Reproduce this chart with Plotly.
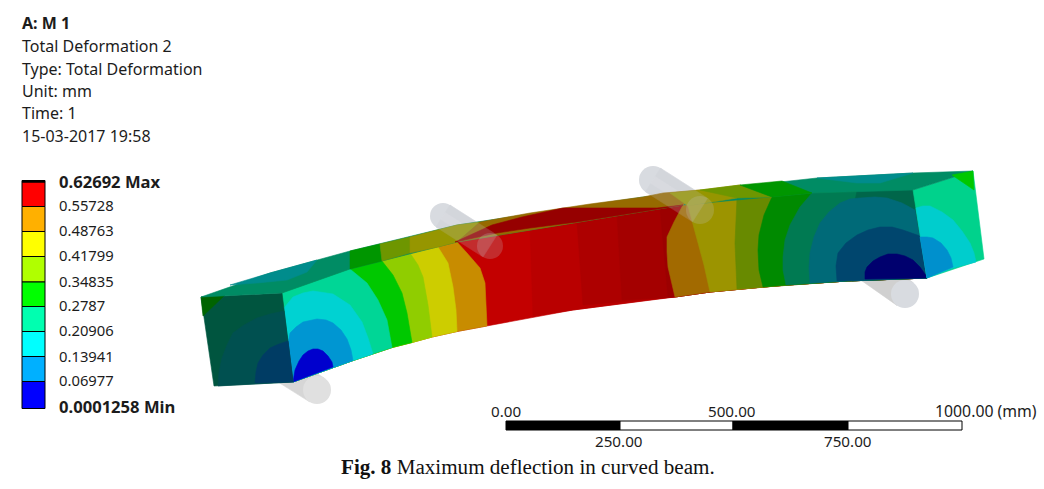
import plotly.graph_objects as go

# ---- text ----
HEADER_BOLD = "A: M 1"
HEADER_LINES = ["Total Deformation 2", "Type: Total Deformation", "Unit: mm", "Time: 1", "15-03-2017 19:58"]
HEADER_Y = [46, 69, 91, 113, 136]
LEGEND_LABELS = ["0.62692 Max", "0.55728", "0.48763", "0.41799", "0.34835", "0.2787", "0.20906", "0.13941", "0.06977", "0.0001258 Min"]
LEGEND_LABEL_Y = [181, 205, 230, 255, 281, 305, 330, 356, 380, 406]
LEGEND_COLORS = ["#ff0000", "#ffb000", "#ffff00", "#b0ff00", "#00ff00", "#00ffb0", "#00ffff", "#00b0ff", "#0000ff"]
LEGEND_EDGES = [182, 206.5, 231.5, 256.5, 282, 306.5, 331.5, 356.5, 381.5, 408.5]
SCALE_EDGES = [506, 620, 733, 848, 962]
SCALE_FILL = ["black", "white", "black", "white"]
SCALE_TOP = [("0.00", 506), ("500.00", 732)]
SCALE_BOTTOM = [("250.00", 619), ("750.00", 848)]

# ---- beam outline ----
FRONT_TOP = [(282, 293), (350, 269), (382, 261), (410, 253), (438, 247), (457, 242), (497, 233), (530, 228), (577, 222), (660, 208), (683, 205), (737, 198), (772, 197), (812, 193), (913, 190)]
FRONT_BOT = [(293, 382), (353, 360.5), (392, 347.5), (412, 342.5), (432, 337), (457, 331.5), (487, 326), (573, 310), (675, 297), (710, 292), (763, 287), (787, 285), (847, 281), (927, 278)]
TOP_UPPER = [(201, 297), (270, 273), (350, 251), (380, 244), (410, 237), (457, 225), (480, 222), (530, 213), (590, 204), (643, 197), (700, 190), (740, 185), (817, 178), (913, 173), (973, 171)]

# ---- contour curves on the front face, top to bottom ----
LEFT_BANDS = [
    ("#c88c00", [(457, 242), (467, 253), (480, 268), (485, 283), (486, 305), (487, 326)]),
    ("#cdcd00", [(438, 247), (448, 263), (453, 287), (456, 310), (457, 331.5)]),
    ("#90cd00", [(410, 253), (418, 265), (423, 277), (428, 305), (432, 337)]),
    ("#00c800", [(382, 261), (393, 275), (402, 293), (407, 313), (412, 342.5)]),
    ("#00d696", [(350, 269), (367, 283), (378, 300), (387, 320), (392, 347.5)]),
]
LEFT_DOMES = [
    ("#00d2d2", [(284, 308), (293, 297), (303, 293), (313, 291), (333, 294), (350, 305), (362, 322), (368, 338), (373, 354)]),
    ("#0096d2", [(288, 343), (290, 333), (296, 327), (303, 322), (317, 319), (326, 320), (333, 323), (341, 330), (347, 339), (351, 350), (353, 360.5)]),
    ("#0000cd", [(295, 370), (299, 361), (303, 355), (308, 351), (313, 349), (318, 349), (323, 351), (328, 356), (332, 362), (333, 367)]),
]
RED_BASE = "#c30000"
RED_STRIPS = [
    ("#b90000", [(530, 228), (533, 316)]),
    ("#ad0000", [(577, 222), (583, 305)]),
    ("#a40000", [(617, 215), (622, 300)]),
]
RIGHT_BANDS = [
    ("#9c0000", [(660, 208), (668, 297)]),
    ("#a26a00", [(683, 205), (674, 222), (667, 237), (667, 252), (668, 267), (675, 297)]),
    ("#9c9400", [(688, 206), (697, 240), (704, 265), (710, 292)]),
    ("#688a00", [(737, 198), (735, 243), (737, 289)]),
    ("#008a00", [(772, 197), (764, 215), (759, 235), (758, 250), (759, 270), (763, 287)]),
    ("#007a52", [(812, 193), (800, 207), (790, 225), (785, 240), (783, 257), (783, 270), (786, 285)]),
    ("#00664a", [(857, 191), (852, 215), (852, 281)]),
]
RIGHT_DOMES = [
    ("#006a78", [(810, 283), (809, 268), (810, 253), (814, 237), (820, 223), (829, 212), (840, 203), (850, 199), (860, 198), (875, 197), (887, 198), (902, 203), (915, 210)]),
    ("#00466e", [(837, 281), (836, 266), (838, 253), (846, 243), (857, 235), (868, 230), (880, 227), (892, 227), (903, 230), (920, 236)]),
    ("#00006e", [(865, 279), (865, 272), (867, 267), (873, 261), (880, 257), (888, 254), (897, 254), (905, 256), (913, 260), (920, 267), (927, 277)]),
]

# ---- end faces and top face patches ----
PATCHES = [
    ("#00553f", [(201, 297), (282, 293), (293, 382), (214, 386)]),
    ("#005050", [(218, 386), (219, 372), (222, 358), (227, 345), (233, 333), (244, 325), (257, 318), (270, 314), (284, 311), (293, 382)]),
    ("#003c64", [(255, 383), (256, 372), (258, 363), (263, 355), (270, 348), (279, 344), (288, 341), (293, 382)]),
    ("#006400", [(201, 297), (225, 295), (203, 316)]),
    ("#00d28c", [(913, 190), (973, 171), (984, 259), (927, 278)]),
    ("#00cdcd", [(916, 208), (923, 206), (930, 206), (942, 212), (953, 220), (962, 231), (970, 243), (974, 253), (976, 262), (953, 268), (927, 278)]),
    ("#0090cd", [(920, 237), (927, 237), (933, 238), (941, 243), (947, 250), (951, 258), (953, 267), (927, 278)]),
    # top face
    ("#008c64", [(201, 297), (270, 273), (350, 251), (457, 225), (643, 197), (817, 178), (913, 173), (973, 171), (913, 190), (812, 193), (683, 205), (457, 242), (350, 269), (282, 293)]),
    ("#008c8c", [(230, 285), (257, 283), (287, 280), (307, 272), (317, 260), (270, 273)]),
    ("#008c8c", [(817, 178), (857, 183), (880, 183), (913, 173)]),
    ("#009600", [(350, 251), (380, 244), (382, 261), (350, 269)]),
    ("#6e9600", [(380, 244), (410, 237), (410, 253), (382, 261)]),
    ("#969600", [(410, 237), (457, 225), (480, 222), (457, 242), (438, 247), (410, 253)]),
    ("#966a00", [(480, 222), (530, 213), (590, 204), (643, 197), (663, 193), (700, 190), (683, 205), (457, 242)]),
    ("#960000", [(455, 242), (492, 225), (522, 217), (563, 208), (657, 208), (683, 205), (577, 222), (530, 228), (497, 233)]),
    ("#969600", [(670, 193), (700, 190), (740, 185), (737, 198), (688, 206)]),
    ("#6e9600", [(700, 190), (740, 185), (772, 197), (737, 198)]),
    ("#009600", [(740, 185), (782, 181), (812, 193), (772, 197)]),
    ("#00c800", [(952, 175), (973, 171), (974, 190)]),
]

# ---- support cylinders: end-to-end centres, radius ----
CYLINDERS_BEHIND = [
    ((443, 216), (490, 246), 13, "#d8dbe0"),
    ((653, 180), (700, 210), 14, "#d8dbe0"),
    ((868, 268), (905, 294), 14, "#d0d0d0"),
    ((282, 368), (317, 390), 14, "#d6d6d6"),
]
CAP_COLORS = ["#d8dbe0", "#d8dbe0", "#d8dbe0", "#e0e0e0"]
CYLINDERS_FRONT = [((443, 216), (490, 246), 13), ((653, 180), (700, 210), 14)]
HIGHLIGHT_RADIUS = 4

TEXT_FONT = "Noto Sans"
TEXT_COLOR = "#1c1c1c"

fig = go.Figure()

def poly(points, color, opacity=None, line=0):
    fig.add_trace(go.Scatter(
        x=[p[0] for p in points] + [points[0][0]],
        y=[p[1] for p in points] + [points[0][1]],
        mode="lines", fill="toself", fillcolor=color,
        line=dict(color=color if line == 0 else "black", width=0.6 if line == 0 else line),
        opacity=opacity, hoverinfo="skip", showlegend=False))

def capsule(a, b, r, color, cap, opacity=None):
    dx, dy = b[0] - a[0], b[1] - a[1]
    n = (dx * dx + dy * dy) ** 0.5
    ox, oy = -dy / n * r, dx / n * r
    poly([(a[0] + ox, a[1] + oy), (b[0] + ox, b[1] + oy), (b[0] - ox, b[1] - oy), (a[0] - ox, a[1] - oy)], color, opacity)
    fig.add_trace(go.Scatter(x=[b[0]], y=[b[1]], mode="markers",
        marker=dict(size=2 * r, color=cap, line=dict(width=0)),
        opacity=opacity, hoverinfo="skip", showlegend=False))

def band_left(curve):
    top = [p for p in FRONT_TOP if p[0] < curve[0][0]]
    bot = [p for p in FRONT_BOT if p[0] < curve[-1][0]]
    return top + curve + bot[::-1]

def dome_left(curve):
    bot = [p for p in FRONT_BOT if p[0] < curve[-1][0]]
    return curve + bot[::-1]

def band_right(curve):
    top = [p for p in FRONT_TOP if p[0] > curve[0][0]]
    bot = [p for p in FRONT_BOT if p[0] > curve[-1][0]]
    return curve + bot + top[::-1]

def dome_right(curve):
    bot = [p for p in FRONT_BOT if p[0] > curve[0][0]]
    return curve + bot[::-1]

# cylinders behind the beam
for (a, b, r, c), cap in zip(CYLINDERS_BEHIND, CAP_COLORS):
    capsule(a, b, r, c, cap)
    fig.add_trace(go.Scatter(x=[a[0]], y=[a[1]], mode="markers",
        marker=dict(size=2 * r, color=c, line=dict(width=0)), hoverinfo="skip", showlegend=False))
for a, b, r, c in CYLINDERS_BEHIND[:2]:
    capsule(a, b, HIGHLIGHT_RADIUS, "#dfe1e5", "#d8dbe0")

# front face
poly(FRONT_TOP + FRONT_BOT[::-1], RED_BASE)
for color, curve in RED_STRIPS:
    poly(band_right(curve), color)
for color, curve in RIGHT_BANDS:
    poly(band_right(curve), color)
for color, curve in RIGHT_DOMES:
    poly(dome_right(curve), color)
for color, curve in LEFT_BANDS:
    poly(band_left(curve), color)
for color, curve in LEFT_DOMES:
    poly(dome_left(curve), color)
for color, pts in PATCHES:
    poly(pts, color)

# translucent parts of the cylinders over the beam
for a, b, r in CYLINDERS_FRONT:
    capsule(a, b, r, "#c4c6ce", "#c4c6ce", opacity=0.22)

# legend
for color, y0, y1 in zip(LEGEND_COLORS, LEGEND_EDGES[:-1], LEGEND_EDGES[1:]):
    poly([(22, y0), (45, y0), (45, y1), (22, y1)], color, line=1)
poly([(22, 180.5), (45, 180.5), (45, 182), (22, 182)], "black", line=1)

# scale bar
for color, x0, x1 in zip(SCALE_FILL, SCALE_EDGES[:-1], SCALE_EDGES[1:]):
    poly([(x0, 421), (x1, 421), (x1, 430), (x0, 430)], color, line=1)

annos = []
def text(s, x, y, size=16, anchor="left", font=TEXT_FONT, color=TEXT_COLOR):
    annos.append(dict(text=s, x=x, y=y, xref="x", yref="y", xanchor=anchor, yanchor="middle",
                      showarrow=False, font=dict(family=font, size=size, color=color)))

text("<b>%s</b>" % HEADER_BOLD, 20, 23)
for s, y in zip(HEADER_LINES, HEADER_Y):
    text(s, 20, y)
for i, (s, y) in enumerate(zip(LEGEND_LABELS, LEGEND_LABEL_Y)):
    if i in (0, len(LEGEND_LABELS) - 1):
        text("<b>%s</b>" % s, 57, y, size=16.6)
    else:
        text(s, 57, y, size=14.8)
for s, x in SCALE_TOP:
    text(s, x, 411, size=15.2, anchor="center")
text("1000.00 (mm)", 933, 411, size=15.8)
for s, x in SCALE_BOTTOM:
    text(s, x, 441, size=15.2, anchor="center")
text("<b>Fig. 8</b> Maximum deflection in curved beam.", 339, 467, size=21.1, font="Liberation Serif", color="#111111")

fig.update_layout(
    width=1044, height=489, margin=dict(l=0, r=0, t=0, b=0),
    paper_bgcolor="white", plot_bgcolor="white", showlegend=False, annotations=annos,
    xaxis=dict(range=[0, 1044], visible=False, fixedrange=True),
    yaxis=dict(range=[489, 0], visible=False, fixedrange=True),
)
fig.write_html("out.html", config={"displayModeBar": False},
               post_script="document.body.style.margin='0';document.documentElement.style.overflow='hidden';")
